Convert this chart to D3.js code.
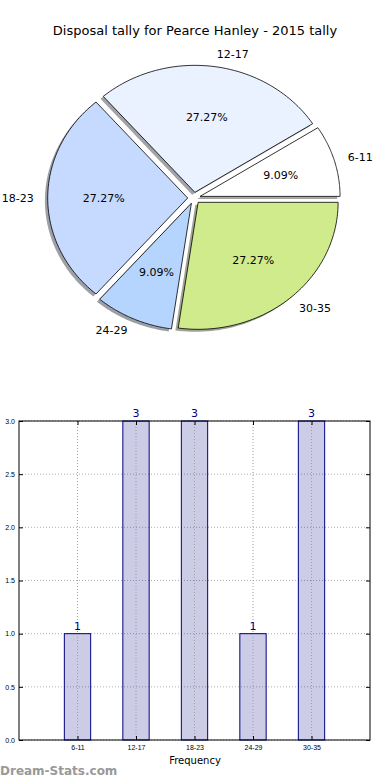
<!DOCTYPE html>
<html>
<head>
<meta charset="utf-8">
<script src="https://cdn.jsdelivr.net/npm/d3@7"></script>
<style>
  body { margin: 0; background: #fff; }
  svg { display: block; font-family: "DejaVu Sans", sans-serif; }
</style>
</head>
<body>
<div class="chart"></div>
<script>
// data
var categories = ["6-11", "12-17", "18-23", "24-29", "30-35"];
var counts = [1, 3, 3, 1, 3];
var sliceColors = ["#ffffff", "#eaf1ff", "#c6d9ff", "#b5d5ff", "#d0eb8b"];
var yTicks = [0.0, 0.5, 1.0, 1.5, 2.0, 2.5, 3.0];
var title = "Disposal tally for Pearce Hanley - 2015 tally";

var w = 390, h = 780;
var svg = d3.select(".chart").append("svg")
    .attr("width", w).attr("height", h);

svg.append("text")
    .attr("x", 195).attr("y", 35)
    .attr("text-anchor", "middle")
    .style("font-size", "13px")
    .text(title);

// ---- pie (elliptical, like matplotlib without equal axis) ----
var cx = 194, cy = 198, rx = 140, ry = 127, explode = 0.045;
var total = d3.sum(counts);
// matplotlib style: start at 3 o'clock, counter clockwise
var pie = d3.pie().sort(null).value(d => d)
    .startAngle(0).endAngle(2 * Math.PI);
var arcs = pie(counts);

function slicePath(a, ox, oy) {
  var pts = [[ox, oy]];
  var n = 60;
  for (var i = 0; i <= n; i++) {
    var t = a.startAngle + (a.endAngle - a.startAngle) * i / n;
    pts.push([ox + rx * Math.cos(t), oy - ry * Math.sin(t)]);
  }
  return d3.line()(pts) + "Z";
}

var pieG = svg.append("g").attr("transform", `translate(${cx},${cy})`);

arcs.forEach(function(a, i) {
  var mid = (a.startAngle + a.endAngle) / 2;
  a.ox = explode * rx * Math.cos(mid);
  a.oy = -explode * ry * Math.sin(mid);
  a.mid = mid;
  a.color = d3.rgb(sliceColors[i]);
});

// shadows
pieG.selectAll("path.shadow")
  .data(arcs)
  .enter().append("path")
    .attr("class", "shadow")
    .attr("d", a => slicePath(a, a.ox - 2.8, a.oy + 2.5))
    .attr("fill", a => d3.rgb(a.color.r * 0.3, a.color.g * 0.3, a.color.b * 0.3))
    .attr("fill-opacity", 0.5);

pieG.selectAll("path.slice")
  .data(arcs)
  .enter().append("path")
    .attr("class", "slice")
    .attr("d", a => slicePath(a, a.ox, a.oy))
    .attr("fill", (a, i) => sliceColors[i])
    .style("stroke", "black")
    .style("stroke-width", ".8");

// category labels (distance 1.1)
pieG.selectAll("text.lab")
  .data(arcs)
  .enter().append("text")
    .attr("class", "lab")
    .attr("x", a => a.ox + 1.1 * rx * Math.cos(a.mid))
    .attr("y", a => a.oy - 1.1 * ry * Math.sin(a.mid))
    .attr("dy", "0.35em")
    .attr("text-anchor", a => Math.cos(a.mid) >= 0 ? "start" : "end")
    .style("font-size", "11px")
    .text((a, i) => categories[i]);

// percent labels (distance 0.6)
pieG.selectAll("text.pct")
  .data(arcs)
  .enter().append("text")
    .attr("class", "pct")
    .attr("x", a => a.ox + 0.6 * rx * Math.cos(a.mid))
    .attr("y", a => a.oy - 0.6 * ry * Math.sin(a.mid))
    .attr("dy", "0.35em")
    .attr("text-anchor", "middle")
    .style("font-size", "11px")
    .text(a => (a.data / total * 100).toFixed(2) + "%");

// ---- bar chart ----
var plotL = 19, plotR = 370, plotT = 421, plotB = 740;
var x = d3.scaleLinear().domain([0, categories.length + 1]).range([plotL, plotR]);
var y = d3.scaleLinear().domain([0, 3]).range([plotB, plotT]);
var barW = 0.45;

var bars = svg.append("g");

// grid
bars.selectAll("line.hgrid")
  .data(yTicks)
  .enter().append("line")
    .attr("x1", plotL).attr("x2", plotR)
    .attr("y1", d => y(d)).attr("y2", d => y(d))
    .style("stroke", "#b0b0b0")
    .style("stroke-dasharray", "1,2")
    .style("stroke-width", 1);

bars.selectAll("rect.bar")
  .data(counts)
  .enter().append("rect")
    .attr("class", "bar")
    .attr("x", (d, i) => x(i + 1 - barW / 2))
    .attr("width", x(barW) - x(0))
    .attr("y", d => y(d))
    .attr("height", d => plotB - y(d))
    .attr("fill", "#000080")
    .attr("fill-opacity", 0.2)
    .style("stroke", "#000080")
    .style("stroke-width", 1);

// vertical grid drawn over the bars
bars.selectAll("line.vgrid")
  .data(categories)
  .enter().append("line")
    .attr("x1", (d, i) => x(i + 1)).attr("x2", (d, i) => x(i + 1))
    .attr("y1", plotT).attr("y2", plotB)
    .style("stroke", "#a0a0a0")
    .style("stroke-dasharray", "1,2")
    .style("stroke-width", 1);

bars.selectAll("text.val")
  .data(counts)
  .enter().append("text")
    .attr("x", (d, i) => x(i + 1))
    .attr("y", d => y(d) - 4)
    .attr("text-anchor", "middle")
    .attr("fill", "#000080")
    .style("font-size", "11px")
    .text(d => d);

// axes (ticks inside)
var yAxis = d3.axisLeft(y).tickValues(yTicks).tickFormat(d3.format(".1f"))
    .tickSize(-4).tickPadding(4);
bars.append("g")
    .attr("transform", `translate(${plotL},0)`)
    .call(yAxis)
    .call(g => g.select(".domain").remove())
    .call(g => g.selectAll("text").style("font-size", "7px").attr("fill", "#000"));

bars.append("g")
    .attr("transform", `translate(${plotR},0)`)
    .call(d3.axisRight(y).tickValues(yTicks).tickFormat("").tickSize(-4))
    .call(g => g.select(".domain").remove());

var xAxis = d3.axisBottom(x).tickValues(d3.range(1, categories.length + 1))
    .tickFormat(d => categories[d - 1]).tickSize(-4).tickPadding(5);
bars.append("g")
    .attr("transform", `translate(0,${plotB})`)
    .call(xAxis)
    .call(g => g.select(".domain").remove())
    .call(g => g.selectAll("text").style("font-size", "7px").attr("fill", "#000"));

bars.append("g")
    .attr("transform", `translate(0,${plotT})`)
    .call(d3.axisTop(x).tickValues(d3.range(1, categories.length + 1)).tickFormat("").tickSize(-4))
    .call(g => g.select(".domain").remove());

bars.append("rect")
    .attr("x", plotL).attr("y", plotT)
    .attr("width", plotR - plotL).attr("height", plotB - plotT)
    .attr("fill", "none")
    .style("stroke", "black")
    .style("stroke-width", 1);

svg.append("text")
    .attr("x", 195).attr("y", 764)
    .attr("text-anchor", "middle")
    .style("font-size", "10px")
    .text("Frequency");

svg.append("text")
    .attr("x", 0).attr("y", 775)
    .attr("fill", "#999")
    .style("font-size", "12px")
    .style("font-weight", "600")
    .text("Dream-Stats.com");
</script>
</body>
</html>
